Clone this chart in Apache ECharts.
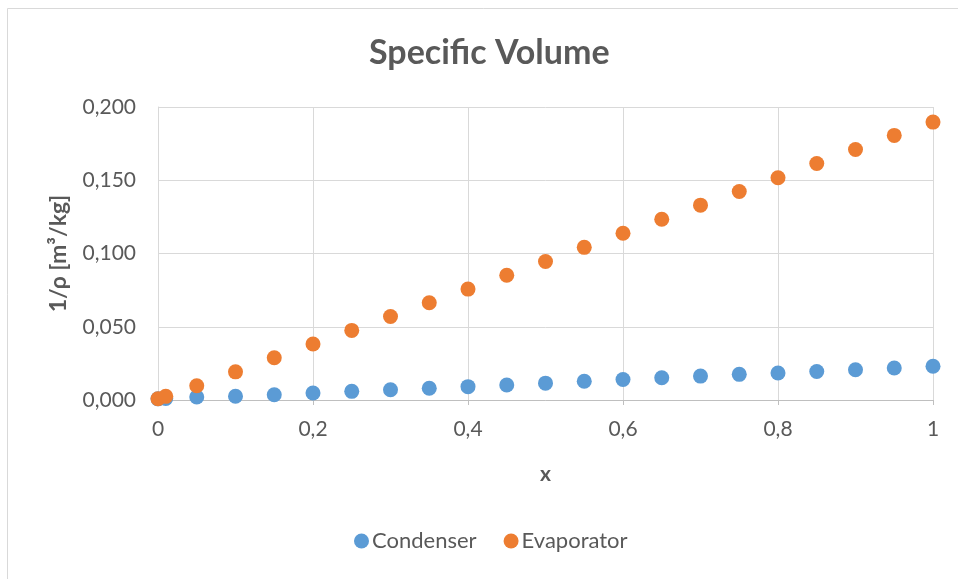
<!DOCTYPE html>
<html>
<head>
<meta charset="utf-8">
<script src="https://cdn.jsdelivr.net/npm/echarts@6/dist/echarts.min.js"></script>
<style>
  html, body { margin: 0; padding: 0; background: #ffffff; }
  #chart { width: 958px; height: 579px; }
</style>
</head>
<body>
<div id="chart"></div>
<script>
// Vapour quality x (mass fraction)
const quality = [0, 0.01, 0.05, 0.1, 0.15, 0.2, 0.25, 0.3, 0.35, 0.4, 0.45, 0.5,
                 0.55, 0.6, 0.65, 0.7, 0.75, 0.8, 0.85, 0.9, 0.95, 1];

// Specific volume 1/rho [m3/kg]
const condenser = [0.0008, 0.0010, 0.0020, 0.0026, 0.0036, 0.0048, 0.0059, 0.0070,
                   0.0080, 0.0091, 0.0102, 0.0115, 0.0128, 0.0140, 0.0152, 0.0163,
                   0.0175, 0.0184, 0.0195, 0.0206, 0.0218, 0.0230];
const evaporator = [0.0009, 0.0025, 0.0097, 0.0192, 0.0288, 0.0382, 0.0475, 0.0570,
                    0.0664, 0.0757, 0.0852, 0.0945, 0.1042, 0.1138, 0.1234, 0.1330,
                    0.1423, 0.1517, 0.1614, 0.1710, 0.1806, 0.1897];

const xTickLabels = ['0', '0,2', '0,4', '0,6', '0,8', '1'];
const yTickLabels = ['0,000', '0,050', '0,100', '0,150', '0,200'];

const seriesNames = ['Condenser', 'Evaporator'];
const seriesColors = ['#5B9BD5', '#ED7D31'];

const FONT = 'Lato, "Open Sans", sans-serif';
const TEXT = '#595959';

const pairs = (ys) => quality.map((x, i) => [x, ys[i]]);

const chart = echarts.init(document.getElementById('chart'), null, { renderer: 'canvas' });
chart.setOption({
  animation: false,
  backgroundColor: '#ffffff',
  textStyle: { fontFamily: FONT, color: TEXT },
  graphic: [{
    type: 'rect',
    shape: { x: 7.5, y: 8.5, width: 980, height: 600 },
    style: { fill: 'none', stroke: '#d9d9d9', lineWidth: 1 },
    silent: true
  }],
  title: {
    text: 'Specific Volume',
    left: 364,
    top: 31,
    textStyle: { fontFamily: FONT, fontSize: 34, fontWeight: 'bold', color: TEXT }
  },
  legend: {
    bottom: 22,
    left: 349,
    icon: 'circle',
    itemWidth: 15,
    itemHeight: 15,
    itemGap: 27,
    textStyle: { fontFamily: FONT, fontSize: 22, color: TEXT, padding: [0, 0, 0, -2] },
    data: seriesNames
  },
  grid: { left: 158, right: 25, top: 107, bottom: 179, containLabel: false },
  xAxis: {
    type: 'value',
    min: 0, max: 1, interval: 0.2,
    name: 'x',
    nameLocation: 'middle',
    nameGap: 64,
    nameTextStyle: { fontFamily: FONT, fontSize: 21, fontWeight: 'bold', color: TEXT },
    axisLine: { show: true, onZero: false, lineStyle: { color: '#bfbfbf', width: 1 } },
    axisTick: { show: true, length: 5, lineStyle: { color: '#bfbfbf' } },
    axisLabel: {
      fontFamily: FONT, fontSize: 21, color: TEXT, margin: 19,
      formatter: (v) => xTickLabels[Math.round(v / 0.2)]
    },
    splitLine: { show: true, lineStyle: { color: '#d9d9d9', width: 1 } }
  },
  yAxis: {
    type: 'value',
    min: 0, max: 0.2, interval: 0.05,
    name: '1/ρ [m³/kg]',
    nameLocation: 'middle',
    nameGap: 88,
    nameRotate: 90,
    nameTextStyle: { fontFamily: FONT, fontSize: 23, fontWeight: 'bold', color: TEXT },
    axisLine: { show: true, lineStyle: { color: '#d9d9d9', width: 1 } },
    axisTick: { show: false },
    axisLabel: {
      fontFamily: FONT, fontSize: 21, color: TEXT, margin: 22,
      formatter: (v) => yTickLabels[Math.round(v / 0.05)]
    },
    splitLine: { show: true, lineStyle: { color: '#d9d9d9', width: 1 } }
  },
  series: [
    {
      name: seriesNames[0],
      type: 'scatter',
      symbol: 'circle',
      symbolSize: 15,
      itemStyle: { color: seriesColors[0], opacity: 1 },
      data: pairs(condenser)
    },
    {
      name: seriesNames[1],
      type: 'scatter',
      symbol: 'circle',
      symbolSize: 15,
      itemStyle: { color: seriesColors[1], opacity: 1 },
      data: pairs(evaporator)
    }
  ]
});
</script>
</body>
</html>
